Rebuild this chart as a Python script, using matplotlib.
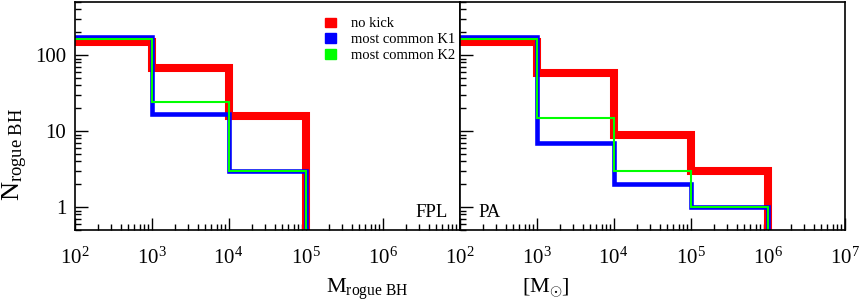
import numpy as np
import matplotlib
matplotlib.use('Agg')
from matplotlib import pyplot as plt
from matplotlib.ticker import LogLocator, FuncFormatter, NullFormatter

plt.rcParams['font.family'] = ['Liberation Serif', 'DejaVu Serif']
plt.rcParams['mathtext.fontset'] = 'custom'
plt.rcParams['mathtext.rm'] = 'Liberation Serif'
plt.rcParams['mathtext.it'] = 'Liberation Serif:italic'

# bin edges (solar masses)
fpl_edges = [1e2, 1e3, 1e4, 1e5]
pa_edges = [1e2, 1e3, 1e4, 1e5, 1e6]

# FPL panel
fpl_nokick = [150, 67, 16]
fpl_k1 = [172, 17, 3]
fpl_k2 = [165, 24, 3]

# PA panel
pa_nokick = [150, 58, 9, 3]
pa_k1 = [172, 7, 2, 1]
pa_k2 = [164, 15, 3, 1]

labels = ['no kick', 'most common K1', 'most common K2']
colors = ['#ff0000', '#0000ff', '#00ff00']
widths = [5.8, 3.3, 1.5]

fig = plt.figure(figsize=(8.63, 3.05), dpi=100)
ax1 = fig.add_axes([74.5 / 863, 75 / 305, 385 / 863, 228 / 305])
ax2 = fig.add_axes([459.5 / 863, 75 / 305, 385 / 863, 228 / 305])


def draw_panel(ax, edges, series, tag, tag_x):
    for vals, c, lw, lab in zip(series, colors, widths, labels):
        # last point drops below the axis, like a ROOT histogram outline
        ax.step(edges, list(vals) + [0.1], where='post', color=c, lw=lw,
                label=lab, solid_joinstyle='miter')
    ax.set_xscale('log')
    ax.set_yscale('log')
    ax.set_xlim(1e2, 1e7)
    ax.set_ylim(0.5, 500)
    ax.xaxis.set_major_locator(LogLocator(base=10, numticks=10))
    ax.xaxis.set_minor_locator(LogLocator(base=10, subs=np.arange(2, 10), numticks=10))
    ax.yaxis.set_major_locator(LogLocator(base=10, numticks=10))
    ax.yaxis.set_minor_locator(LogLocator(base=10, subs=np.arange(2, 10), numticks=10))
    ax.xaxis.set_major_formatter(FuncFormatter(lambda v, p: r'$\mathrm{10^{%d}}$' % round(np.log10(v))))
    ax.xaxis.set_minor_formatter(NullFormatter())
    ax.yaxis.set_minor_formatter(NullFormatter())
    ax.tick_params(which='both', direction='in', top=False, right=False, labelsize=15)
    ax.tick_params(which='major', length=9, width=1)
    ax.tick_params(which='minor', length=4.5, width=1)
    ax.tick_params(axis='x', pad=13)
    for s in ax.spines.values():
        s.set_linewidth(1.2)
    ax.text(tag_x, 0.85, tag, fontsize=13.5, va='center')


draw_panel(ax1, fpl_edges, [fpl_nokick, fpl_k1, fpl_k2], 'FPL', 2.7e6)
draw_panel(ax2, pa_edges, [pa_nokick, pa_k1, pa_k2], 'PA', 1.75e2)

ax1.yaxis.set_major_formatter(FuncFormatter(lambda v, p: '%d' % round(v)))
ax1.tick_params(axis='y', labelsize=15, pad=6)
ax1.set_xticks([1e2, 1e3, 1e4, 1e5, 1e6])
ax2.set_yticklabels([])

handles = [plt.Rectangle((0, 0), 1, 1, color=c) for c in colors]
ax1.legend(handles, labels, loc='upper right', bbox_to_anchor=(1.007, 0.965),
           frameon=False, fontsize=10.5, handlelength=0.75, handleheight=0.6,
           handletextpad=1.0, labelspacing=0.2, borderpad=0.3,
           borderaxespad=0.2)

fig.text(1 / 863, 150 / 305, r'$\mathrm{N_{rogue\ BH}}$', rotation=90,
         fontsize=19, va='center', ha='left')
fig.text(326 / 863, 12 / 305, r'$\mathrm{M_{rogue\ BH}}$', fontsize=16,
         va='baseline', ha='left')
fig.text(522 / 863, 12 / 305, r'$[\mathrm{M}_{\odot}]$', fontsize=16,
         va='baseline', ha='left')

fig.savefig('out.png', dpi=100)
